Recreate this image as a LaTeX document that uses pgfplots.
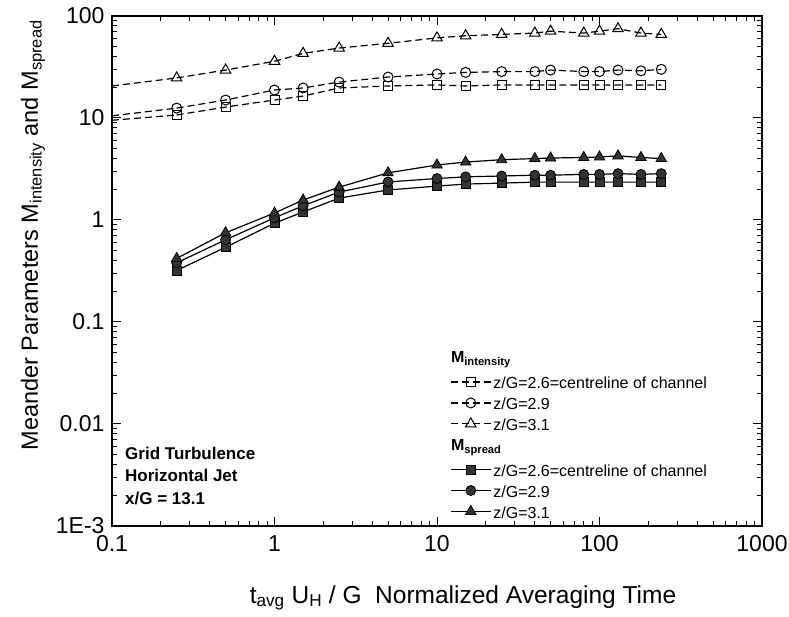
\documentclass[border=0pt]{standalone}
\usepackage{pgfplots}
\pgfplotsset{compat=1.18}
\usepackage{fontspec}
\setmainfont{Liberation Sans}
\begin{document}
\begin{tikzpicture}
\begin{axis}[
  scale only axis, width=650pt, height=510pt,
  xmode=log, ymode=log,
  xmin=0.1, xmax=1000, ymin=1e-3, ymax=100,
  xtick={0.1,1,10,100,1000}, xticklabels={0.1,1,10,100,1000},
  ytick={0.001,0.01,0.1,1,10,100}, yticklabels={1E-3,0.01,0.1,1,10,100},
  /pgf/number format/assume math mode=true,
  tick label style={font=\fontsize{23}{23}\selectfont},
  xticklabel style={yshift=-6pt},
  yticklabel style={xshift=-4pt},
  tick align=inside,
  major tick length=9pt, minor tick length=5pt,
  every tick/.style={black, line width=1pt},
  axis line style={line width=1.6pt},
  xlabel={t\textsubscript{avg} U\textsubscript{H} / G\ \ Normalized Averaging Time},
  ylabel={Meander Parameters M\textsubscript{intensity} and M\textsubscript{spread}},
  xlabel style={font=\fontsize{24.5}{24.5}\selectfont, at={(axis description cs:0.54,-0.141)}, anchor=center},
  ylabel style={font=\fontsize{23.5}{23.5}\selectfont, at={(axis description cs:-0.1215,0.57)}, anchor=center},
  legend image code/.code={\draw[mark repeat=2,mark phase=2,#1] plot coordinates {(0pt,0pt) (20pt,0pt) (40pt,0pt)};},
  legend cell align=left,
  legend style={draw=none, fill=none, at={(rel axis cs:0.52,0.352)}, anchor=north west,
    font=\fontsize{16}{22}\selectfont, inner sep=0pt, row sep=0pt,
    /tikz/every even column/.style={column sep=6pt}},
  int/.style={black, line width=1.2pt, dash pattern=on 7pt off 4pt, mark options={solid, fill=white, line width=1pt}},
  spr/.style={black, line width=1.2pt, solid, mark options={solid, fill=black!80, draw=black, line width=0.8pt}},
]
% legend
\addlegendimage{legend image code/.code={\node[overlay,anchor=west,inner sep=0pt] at (0pt,1pt) {\fontsize{16}{16}\selectfont\textbf{M\textsubscript{intensity}}};}}
\addlegendentry{\rule[-8.6pt]{0pt}{28pt}}
\addlegendimage{int, mark=square, mark size=4.5pt}
\addlegendentry{\strut z/G=2.6=centreline of channel}
\addlegendimage{int, mark=o, mark size=5pt}
\addlegendentry{\strut z/G=2.9}
\addlegendimage{int, mark=triangle, mark size=6pt}
\addlegendentry{\strut z/G=3.1}
\addlegendimage{legend image code/.code={\node[overlay,anchor=west,inner sep=0pt] at (0pt,1pt) {\fontsize{16}{16}\selectfont\textbf{M\textsubscript{spread}}};}}
\addlegendentry{\rule[-8.6pt]{0pt}{28pt}}
\addlegendimage{spr, mark=square*, mark size=4.5pt}
\addlegendentry{\strut z/G=2.6=centreline of channel}
\addlegendimage{spr, mark=*, mark size=5pt}
\addlegendentry{\strut z/G=2.9}
\addlegendimage{spr, mark=triangle*, mark size=6pt}
\addlegendentry{\strut z/G=3.1}

% intensity lead-in segments (from left edge)
\addplot[int, forget plot] coordinates {(0.1,9.5) (0.25,10.7)};
\addplot[int, forget plot] coordinates {(0.1,10.5) (0.25,12.5)};
\addplot[int, forget plot] coordinates {(0.1,20.6) (0.25,24.7)};

% M_intensity
\addplot[int, mark=square, mark size=4.5pt, forget plot] coordinates {
(0.25,10.7) (0.5,12.8) (1,15) (1.5,16.4) (2.5,19.7) (5,20.6) (10,21.1) (15,20.6)
(25,21.1) (40,21.1) (50,21.1) (80,21.1) (100,21.1) (130,21.1) (180,21.1) (240,21.1)};
\addplot[int, mark=o, mark size=5pt, forget plot] coordinates {
(0.25,12.5) (0.5,15) (1,18.8) (1.5,19.7) (2.5,22.5) (5,25.2) (10,27) (15,28)
(25,28.5) (40,28.5) (50,29.5) (80,28.5) (100,28.5) (130,29.5) (180,29) (240,30)};
\addplot[int, mark=triangle, mark size=6pt, forget plot] coordinates {
(0.25,24.7) (0.5,29.5) (1,36) (1.5,43) (2.5,48.5) (5,54) (10,61) (15,64)
(25,66) (40,68) (50,71) (80,68) (100,71) (130,75) (180,68) (240,66)};

% M_spread
\addplot[spr, mark=square*, mark size=4.5pt, forget plot] coordinates {
(0.25,0.32) (0.5,0.54) (1,0.93) (1.5,1.2) (2.5,1.64) (5,1.97) (10,2.15) (15,2.25)
(25,2.3) (40,2.35) (50,2.35) (80,2.35) (100,2.35) (130,2.35) (180,2.35) (240,2.35)};
\addplot[spr, mark=*, mark size=5pt, forget plot] coordinates {
(0.25,0.38) (0.5,0.64) (1,1.05) (1.5,1.38) (2.5,1.88) (5,2.36) (10,2.55) (15,2.65)
(25,2.7) (40,2.75) (50,2.75) (80,2.8) (100,2.8) (130,2.85) (180,2.8) (240,2.85)};
\addplot[spr, mark=triangle*, mark size=6pt, forget plot] coordinates {
(0.25,0.42) (0.5,0.75) (1,1.17) (1.5,1.57) (2.5,2.1) (5,2.9) (10,3.46) (15,3.7)
(25,3.9) (40,4.0) (50,4.05) (80,4.1) (100,4.15) (130,4.25) (180,4.1) (240,4.0)};

\node[anchor=north west, align=left, inner sep=0pt, font=\fontsize{17}{22.5}\selectfont\bfseries]
  at (rel axis cs:0.02,0.155) {Grid Turbulence\\Horizontal Jet\\x/G = 13.1};
\end{axis}
\pgfresetboundingbox
\path[use as bounding box] (-112pt,-91pt) rectangle (677pt,526pt);
\end{tikzpicture}
\end{document}
